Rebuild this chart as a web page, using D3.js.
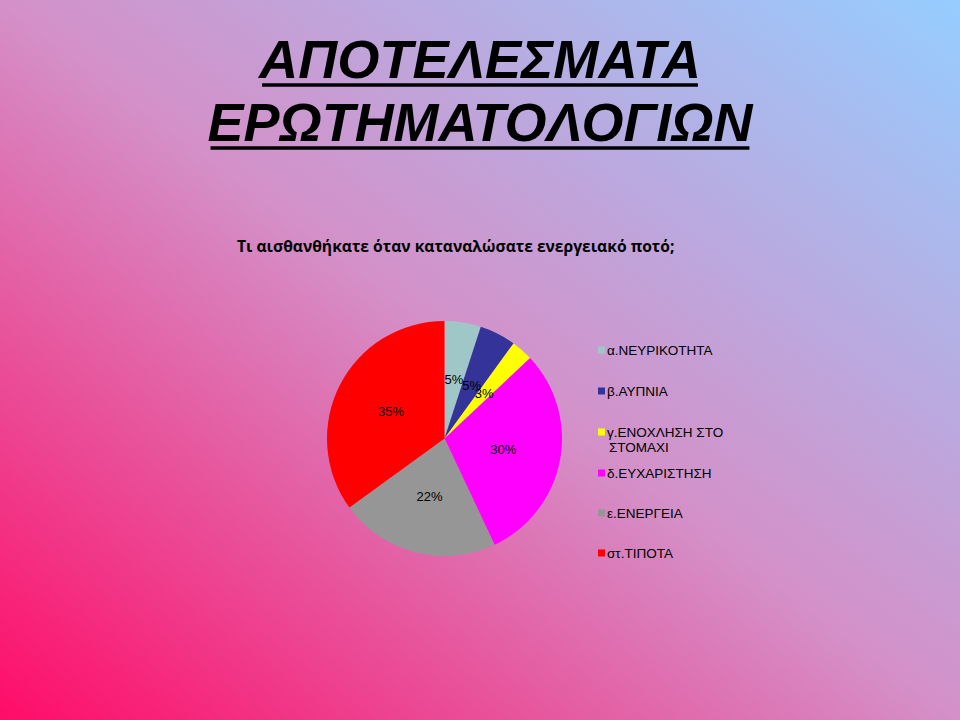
<!DOCTYPE html>
<html>
<head>
<meta charset="utf-8">
<script src="https://cdn.jsdelivr.net/npm/d3@7"></script>
<style>
  html, body { margin: 0; padding: 0; overflow: hidden; }
  svg { display: block; }
</style>
</head>
<body>
<script>
// ---- data ----
const titleLines = ["ΑΠΟΤΕΛΕΣΜΑΤΑ", "ΕΡΩΤΗΜΑΤΟΛΟΓΙΩΝ"];
const subtitle = "Τι αισθανθήκατε όταν καταναλώσατε ενεργειακό ποτό;";
const categories = ["α.ΝΕΥΡΙΚΟΤΗΤΑ", "β.ΑΥΠΝΙΑ", "γ.ΕΝΟΧΛΗΣΗ ΣΤΟ ΣΤΟΜΑΧΙ", "δ.ΕΥΧΑΡΙΣΤΗΣΗ", "ε.ΕΝΕΡΓΕΙΑ", "στ.ΤΙΠΟΤΑ"];
const legendLines = [["α.ΝΕΥΡΙΚΟΤΗΤΑ"], ["β.ΑΥΠΝΙΑ"], ["γ.ΕΝΟΧΛΗΣΗ ΣΤΟ", "ΣΤΟΜΑΧΙ"], ["δ.ΕΥΧΑΡΙΣΤΗΣΗ"], ["ε.ΕΝΕΡΓΕΙΑ"], ["στ.ΤΙΠΟΤΑ"]];
const values = [5, 5, 3, 30, 22, 35];
const colors = ["#9fc7c7", "#333399", "#ffff00", "#ff00ff", "#969696", "#ff0000"];

const W = 960, H = 720;
const svg = d3.select("body").append("svg").attr("width", W).attr("height", H);

// background gradient
const defs = svg.append("defs");
const grad = defs.append("linearGradient").attr("id", "bg")
  .attr("x1", 0).attr("y1", 1).attr("x2", 1).attr("y2", 0);
grad.append("stop").attr("offset", "0").attr("stop-color", "#ff0c68");
grad.append("stop").attr("offset", "0.5").attr("stop-color", "#d490c8");
grad.append("stop").attr("offset", "1").attr("stop-color", "#96cdff");
svg.append("rect").attr("width", W).attr("height", H).attr("fill", "url(#bg)");

// title
const titleFont = "'Liberation Sans', Arial, sans-serif";
const titleSpecs = [{y: 78, width: 442, uy: 85}, {y: 141, width: 545, uy: 148}];
titleLines.forEach((t, i) => {
  const spec = titleSpecs[i];
  const txt = svg.append("text")
    .attr("x", W / 2).attr("y", spec.y)
    .attr("text-anchor", "middle")
    .style("font-family", titleFont)
    .style("font-weight", "bold").style("font-style", "italic")
    .style("font-size", "54px").attr("fill", "#000").text(t);
  const len = txt.node().getComputedTextLength();
  const fs = 54 * spec.width / len;
  txt.style("font-size", fs + "px");
  const len2 = txt.node().getComputedTextLength();
  svg.append("line")
    .attr("x1", W / 2 - len2 / 2 + 3).attr("x2", W / 2 + len2 / 2 - 3)
    .attr("y1", spec.uy).attr("y2", spec.uy)
    .attr("stroke", "#000").attr("stroke-width", 3.5);
});

// subtitle
const sub = svg.append("text")
  .attr("x", 237).attr("y", 252)
  .style("font-family", "'Open Sans', 'Noto Sans', sans-serif")
  .style("font-weight", "bold").style("font-size", "18px")
  .attr("fill", "#000").text(subtitle);
{
  const len = sub.node().getComputedTextLength();
  sub.style("font-size", (18 * 438 / len) + "px");
}

// pie
const cx = 444.5, cy = 438.5, R = 117.5;
const pie = d3.pie().sort(null).value(d => d)(values);
const arc = d3.arc().innerRadius(0).outerRadius(R);
const labelArc = d3.arc().innerRadius(R * 0.51).outerRadius(R * 0.51);
const g = svg.append("g").attr("transform", `translate(${cx},${cy})`);
g.selectAll("path.slice").data(pie).enter().append("path")
  .attr("class", "slice")
  .attr("d", arc)
  .attr("fill", (d, i) => colors[i]);

const total = d3.sum(values);
g.selectAll("text.lbl").data(pie).enter().append("text")
  .attr("class", "lbl")
  .attr("transform", d => `translate(${labelArc.centroid(d)})`)
  .attr("text-anchor", "middle").attr("dy", "0.35em")
  .style("font-family", "'Liberation Sans', Arial, sans-serif")
  .style("font-size", "13px").attr("fill", "#000")
  .text(d => Math.round(d.data / total * 100) + "%");

// legend
const legendY = [350, 391, 432, 473, 513, 553];
const lg = svg.append("g");
legendLines.forEach((lines, i) => {
  lg.append("rect")
    .attr("x", 598).attr("y", legendY[i] - 3.5)
    .attr("width", 7).attr("height", 7)
    .attr("fill", colors[i]);
  const t = lg.append("text")
    .attr("x", 607).attr("y", legendY[i] + 4.5)
    .style("font-family", "'Liberation Sans', Arial, sans-serif")
    .style("font-size", "13.5px").attr("fill", "#000");
  lines.forEach((ln, j) => {
    t.append("tspan").attr("x", j === 0 ? 607 : 609)
      .attr("dy", j === 0 ? 0 : 15.5).text(ln);
  });
});
</script>
</body>
</html>
